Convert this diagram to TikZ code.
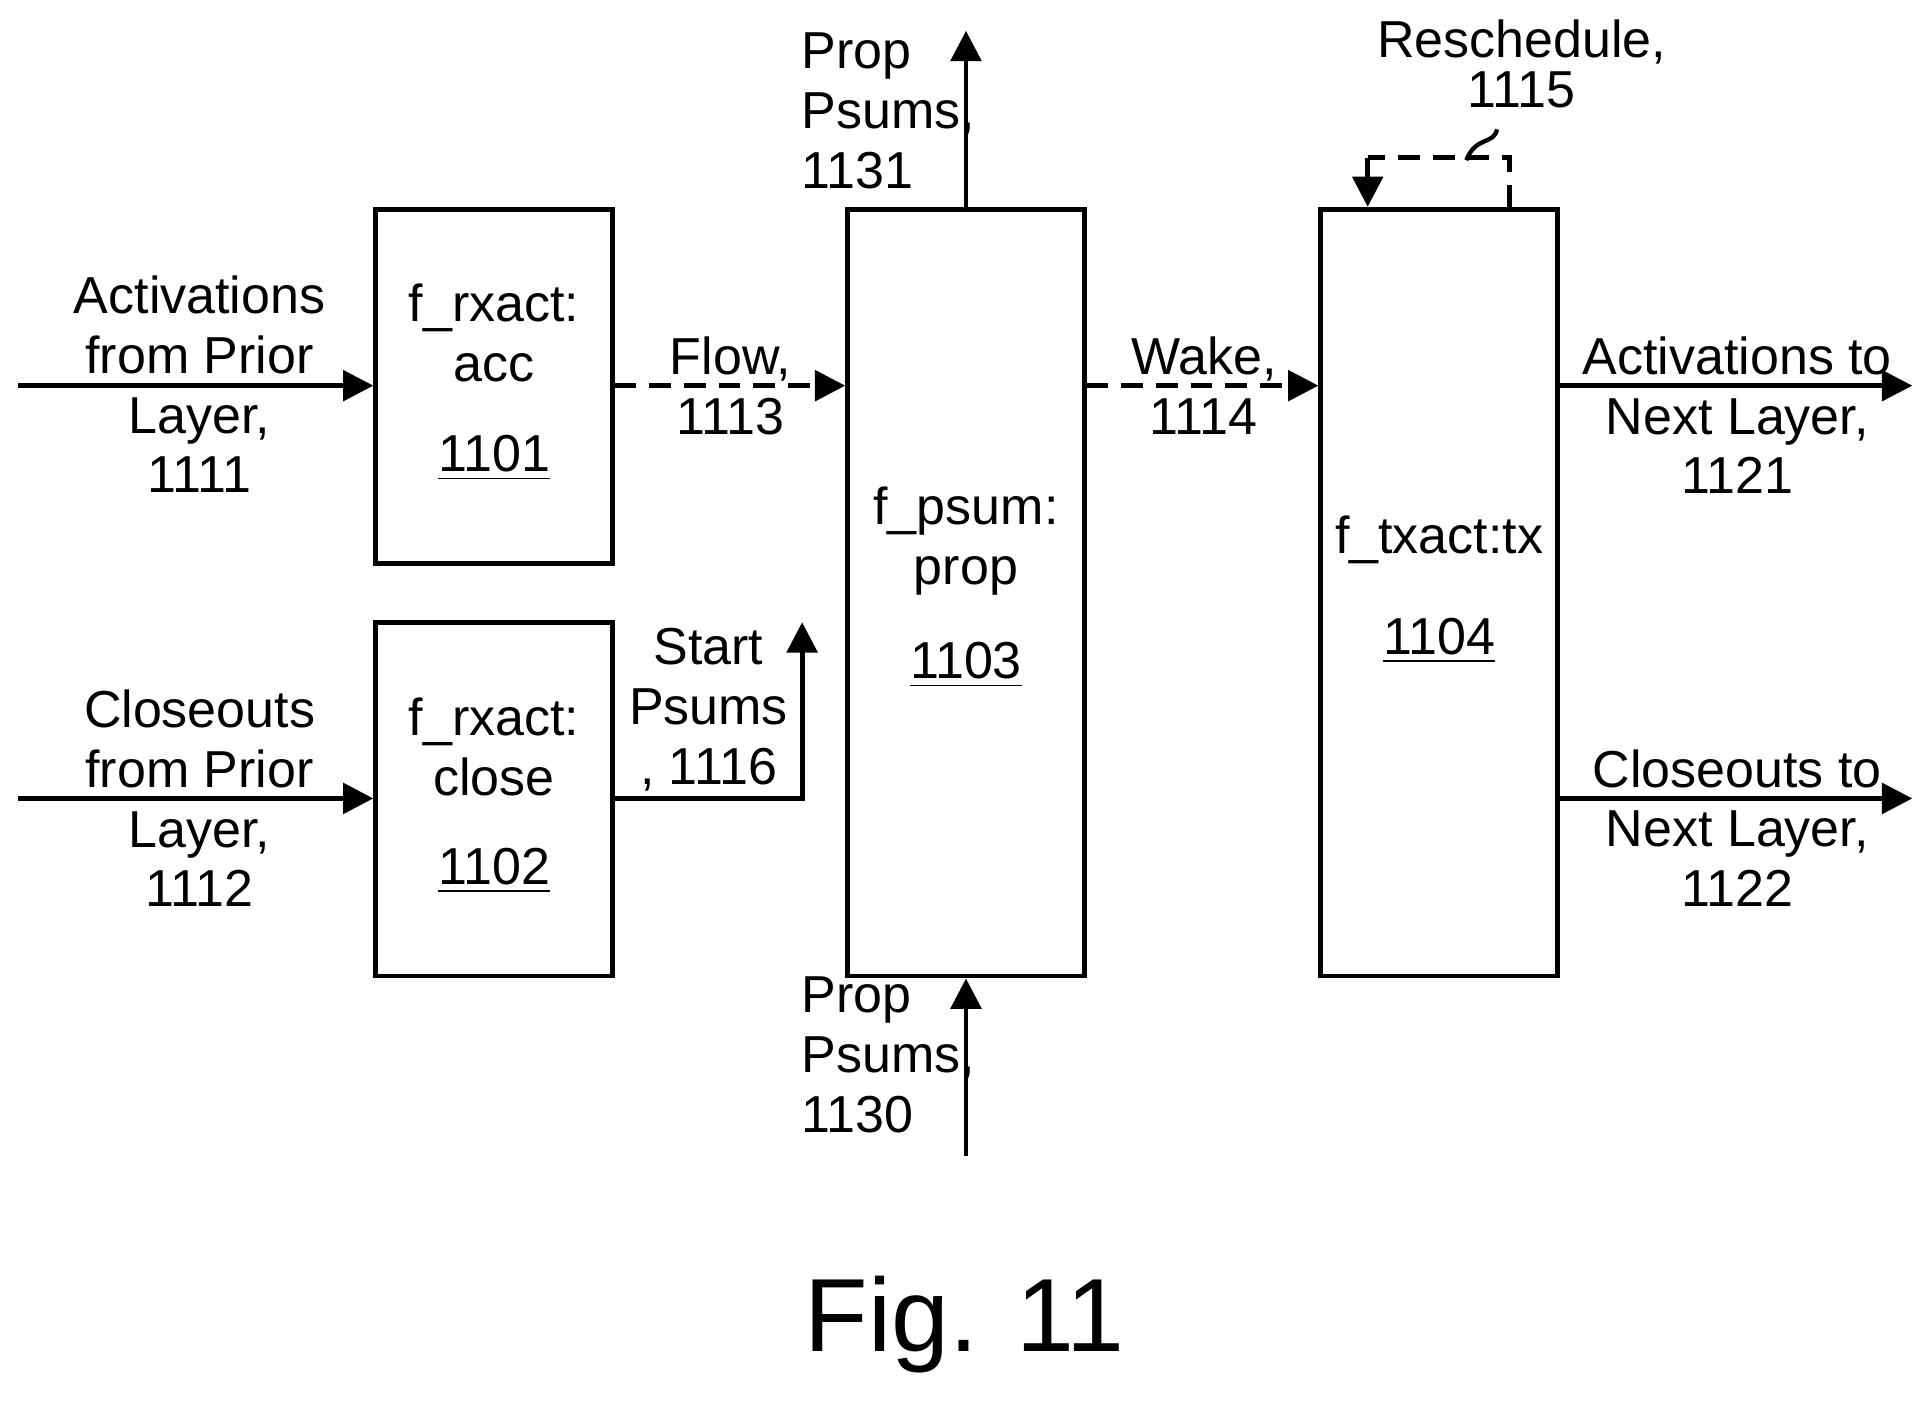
\documentclass[tikz,border=0pt]{standalone}
\usepackage{fontspec}
\setmainfont{Liberation Sans}
\usetikzlibrary{arrows.meta, positioning}

\begin{document}
\begin{tikzpicture}[
    x=0.01cm, y=-0.01cm,
    every node/.style={font=\fontsize{12}{13.8}\selectfont},
    blk/.style={rectangle, draw=black, line width=1.1pt, minimum width=1.92cm, inner sep=0pt},
    lbl/.style={align=center, inner sep=0pt},
    arrow/.style={-{Triangle[length=7pt, width=7pt]}, line width=1.1pt},
    darrow/.style={arrow, dash pattern=on 5pt off 3pt}
]
\useasboundingbox (0,0) rectangle (1568,1139);

% blocks
\node[blk, minimum height=2.87cm] (acc) at (401,313.5) {};
\node[blk, minimum height=2.87cm] (close) at (401,648.5) {};
\node[blk, minimum height=6.22cm] (prop) at (784,481) {};
\node[blk, minimum height=6.22cm] (tx) at (1168,481) {};

\node[lbl] at (401,270) {f\_rxact:\\acc};
\node[lbl] at (401,372) {\underline{1101}};
\node[lbl] at (401,606) {f\_rxact:\\close};
\node[lbl] at (401,707) {\underline{1102}};
\node[lbl] at (784,439) {f\_psum:\\prop};
\node[lbl] at (784,540) {\underline{1103}};
\node[lbl] at (1168,438) {f\_txact:tx};
\node[lbl] at (1168,520) {\underline{1104}};

% free ends
\coordinate (actin) at (15,313);
\coordinate (closein) at (15,648);
\coordinate (actout) at (1552,313);
\coordinate (closeout) at (1552,648);
\coordinate (propout) at (784,25);
\coordinate (propin) at (784,938);
\coordinate (startend) at (651,505);

\draw[arrow] (actin) -- (acc.west |- actin);
\draw[arrow] (closein) -- (close.west |- closein);
\draw[darrow] (acc.east |- actin) -- (prop.west |- actin);
\draw[darrow] (prop.east |- actin) -- (tx.west |- actin);
\draw[arrow] (tx.east |- actout) -- (actout);
\draw[arrow] (tx.east |- closeout) -- (closeout);
\draw[arrow] (close.east |- closein) -| (startend);
\draw[arrow] (prop.north) -- (propout);
\draw[arrow] (propin) -- (prop.south);
\draw[dash pattern=on 5pt off 3pt, line width=1pt] ([xshift=0.57cm]tx.north) -- ++(0,-40) -- ++(-115,0) coordinate (resch);
\draw[arrow] (resch) -- (resch |- tx.north);
\draw[line width=1pt] (1190,130) .. controls (1198,110) and (1212,118) .. (1215,105);

% labels
\node[lbl] at (162,312) {Activations\\from Prior\\Layer,\\1111};
\node[lbl] at (162,648) {Closeouts\\from Prior\\Layer,\\1112};
\node[lbl] at (593,313) {Flow,\\1113};
\node[lbl] at (977,313) {Wake,\\1114};
\node[lbl] at (575,576) {Start\\Psums\\, 1116};
\node[lbl, align=left, anchor=west] at (650,90) {Prop\\Psums,\\1131};
\node[lbl, align=left, anchor=west] at (650,856) {Prop\\Psums,\\1130};
\node[lbl] at (1410,337) {Activations to\\Next Layer,\\1121};
\node[lbl] at (1410,672) {Closeouts to\\Next Layer,\\1122};
\node[lbl, font=\fontsize{12}{11.5}\selectfont] at (1235,52) {Reschedule,\\1115};
\node[lbl, font=\fontsize{24}{28}\selectfont] at (783,1075) {Fig. 11};
\end{tikzpicture}
\end{document}
